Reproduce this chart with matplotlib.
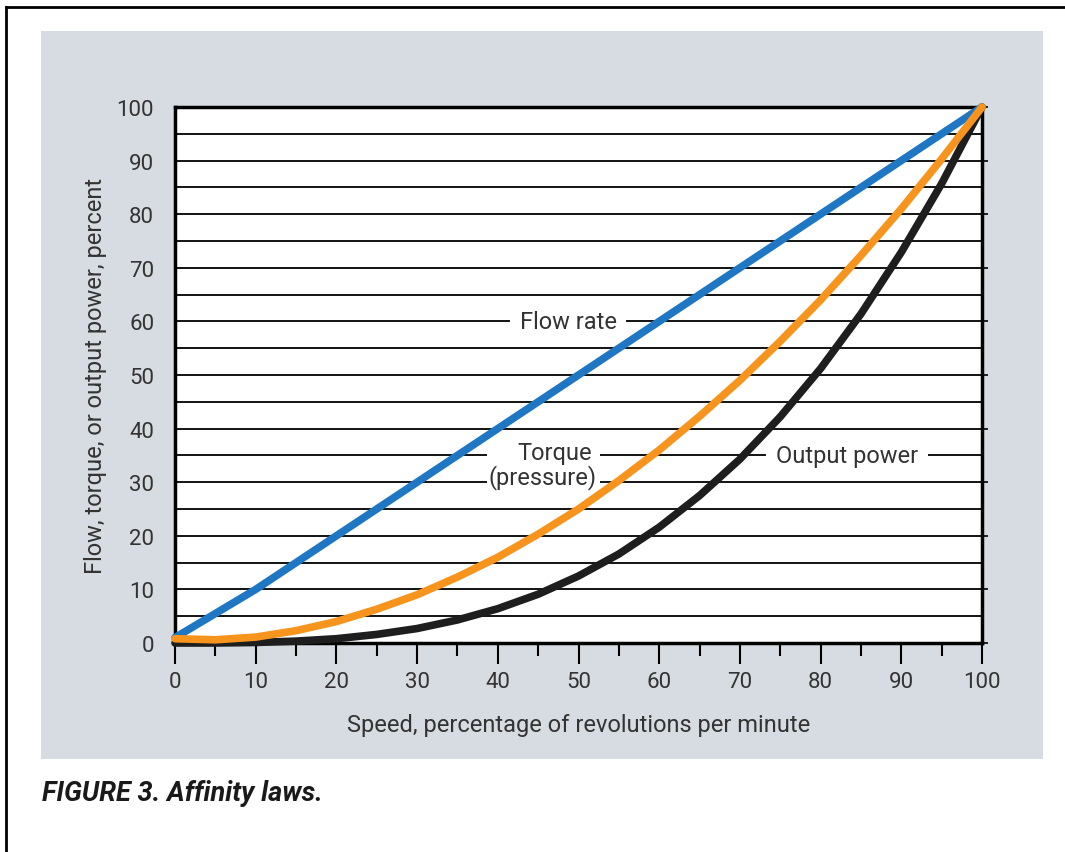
import matplotlib
matplotlib.use("Agg")
import matplotlib.pyplot as plt
from matplotlib.patches import Rectangle
from matplotlib.lines import Line2D
from matplotlib.ticker import MultipleLocator

# ---- data ----
speed = [0, 5, 10, 15, 20, 25, 30, 35, 40, 45, 50, 55, 60, 65, 70, 75, 80, 85, 90, 95, 100]
flow_rate = [1, 5.5, 10, 15, 20, 25, 30, 35, 40, 45, 50, 55, 60, 65, 70, 75, 80, 85, 90, 95, 100]
torque = [0.8, 0.6, 1.1, 2.3, 4, 6.3, 9, 12.3, 16, 20.3, 25, 30.3, 36, 42.3, 49, 56.3, 64, 72.3, 81, 90.3, 100]
output_power = [0, 0, 0.1, 0.35, 0.8, 1.6, 2.7, 4.3, 6.4, 9.1, 12.5, 16.6, 21.6, 27.5, 34.3, 42.2, 51.2, 61.4, 72.9, 85.7, 100]
x_ticks = [0, 10, 20, 30, 40, 50, 60, 70, 80, 90, 100]
y_ticks = [0, 10, 20, 30, 40, 50, 60, 70, 80, 90, 100]

plt.rcParams['font.family'] = ['Roboto', 'DejaVu Sans']
TXT = "#333333"

fig = plt.figure(figsize=(10.65, 8.53), dpi=100)
fig.patch.set_facecolor("white")

# gray panel
fig.patches.append(Rectangle((41/1065, 1-760/853), (1043-41)/1065, (760-32)/853,
                             transform=fig.transFigure, facecolor="#d6dce2",
                             edgecolor="none", zorder=-5))
# outer border (top and left)
fig.lines.append(Line2D([6/1065, 1], [1-8/853, 1-8/853], transform=fig.transFigure,
                        color="black", lw=2, zorder=-4))
fig.lines.append(Line2D([6/1065, 6/1065], [0, 1-8/853], transform=fig.transFigure,
                        color="black", lw=2, zorder=-4))

ax = fig.add_axes([175/1065, 1-644/853, (982-175)/1065, (644-108)/853])
ax.set_zorder(1)
ax.set_facecolor("white")
ax.set_xlim(0, 100)
ax.set_ylim(0, 100)

for y in range(5, 100, 5):
    ax.axhline(y, color="black", lw=1.3, zorder=1)

ax.plot(speed, output_power, color="#1e1e1e", lw=5.5, solid_capstyle="round", zorder=3, clip_on=False)
ax.plot(speed, flow_rate, color="#1f77c4", lw=5.5, solid_capstyle="round", zorder=3.1, clip_on=False)
ax.plot(speed, torque, color="#f7941d", lw=5.5, solid_capstyle="round", zorder=4, clip_on=False)

for s in ax.spines.values():
    s.set_linewidth(2.5)
    s.set_color("black")

ax.set_xticks(x_ticks)
ax.xaxis.set_minor_locator(MultipleLocator(5))
ax.tick_params(axis="x", which="major", direction="out", length=15, width=1.5,
               labelsize=16, labelcolor=TXT, pad=5)
ax.tick_params(axis="x", which="minor", direction="out", length=9, width=1.5)
ax.set_yticks(y_ticks)
ax.tick_params(axis="y", which="major", direction="out", width=1.2,
               labelsize=16, labelcolor=TXT, pad=11, left=False, right=True, length=4)

ax.set_xlabel("Speed, percentage of revolutions per minute", fontsize=17, color=TXT, labelpad=15)
ax.set_ylabel("Flow, torque, or output power, percent", fontsize=17, color=TXT, labelpad=7)

bbox = dict(facecolor="white", edgecolor="none", pad=7)
ax.text(48.7, 60, "Flow rate", ha="center", va="center", fontsize=17, color=TXT, bbox=bbox, zorder=2)
ax.text(83.3, 35, "Output power", ha="center", va="center", fontsize=17, color=TXT, bbox=bbox, zorder=2)

# torque label: white box breaking gridlines, two lines of text
ax.add_patch(Rectangle((38.7, 28), 14.0, 10, facecolor="white", edgecolor="none", zorder=1.5))
ax.text(47.0, 35.6, "Torque", ha="center", va="center", fontsize=17, color=TXT, zorder=2)
ax.text(45.6, 31.0, "(pressure)", ha="center", va="center", fontsize=17, color=TXT, zorder=2)

fig.text(42/1065, 1-794/853, "FIGURE 3. Affinity laws.", fontsize=19.5, fontweight="bold",
         fontstyle="italic", color="#1a1a1a", ha="left", va="center")

fig.savefig("out.png", dpi=100)
